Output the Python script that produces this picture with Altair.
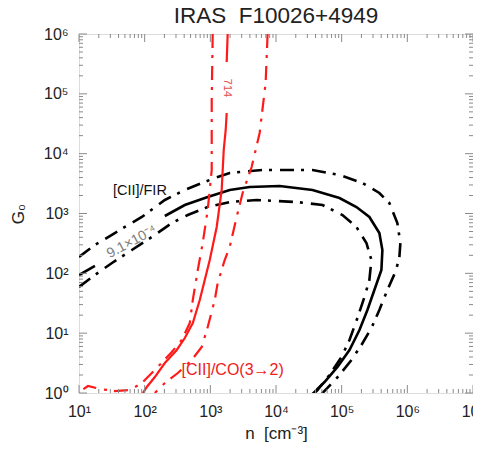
import altair as alt
import pandas as pd

W, H = 394, 359
FONT = "Liberation Sans"
AX = "#8a8a8a"
TXT = "#222222"
RED = "#ff1a1a"

# ---- data (log10 of n and of G0) ----
# [CII]/FIR = 9.1e-4 contour (solid), split by its label
fir_mid_a_logn = [1.00, 1.243]
fir_mid_a_logG = [1.972, 2.123]
fir_mid_b_logn = [2.307, 2.611, 2.960, 3.295, 3.599, 4.055, 4.556, 4.967, 5.225, 5.422,
                  5.574, 5.620, 5.605, 5.498, 5.392, 5.271, 5.119, 4.936, 4.739, 4.556]
fir_mid_b_logG = [2.958, 3.142, 3.276, 3.393, 3.443, 3.460, 3.393, 3.259, 3.109, 2.942,
                  2.674, 2.390, 2.056, 1.722, 1.387, 1.053, 0.719, 0.435, 0.184, -0.017]
# [CII]/FIR error contours (dash-dot)
fir_hi_logn = [1.00, 1.243, 1.699, 1.957, 2.307, 2.611, 2.869, 3.112, 3.295, 3.796, 4.556,
               4.967, 5.316, 5.574, 5.726, 5.848, 5.894, 5.878, 5.818, 5.696, 5.574, 5.453,
               5.301, 5.149, 4.967, 4.784, 4.693]
fir_hi_logG = [2.273, 2.474, 2.775, 2.942, 3.226, 3.393, 3.510, 3.610, 3.677, 3.727, 3.727,
               3.644, 3.510, 3.343, 3.176, 2.841, 2.507, 2.256, 2.022, 1.722, 1.387, 1.086,
               0.802, 0.552, 0.301, 0.084, -0.017]
fir_lo_logn = [1.00, 1.243, 1.502, 1.805, 2.109, 2.413, 2.657, 2.960, 3.295, 3.705, 4.313,
               4.708, 5.012, 5.225, 5.377, 5.453, 5.422, 5.347, 5.240, 5.119, 4.997, 4.815,
               4.632, 4.571]
fir_lo_logG = [1.772, 1.972, 2.173, 2.390, 2.607, 2.841, 2.975, 3.109, 3.192, 3.226, 3.192,
               3.142, 2.975, 2.775, 2.507, 2.223, 1.889, 1.605, 1.254, 0.886, 0.602, 0.301,
               0.050, -0.017]
# [CII]/CO(3-2) = 714 contour (solid), split by its label
co_mid_a_logn = [3.264, 3.249]
co_mid_a_logG = [6.00, 5.532]
co_mid_b_logn = [3.249, 3.234, 3.204, 3.173, 3.097, 2.991, 2.915, 2.839, 2.733, 2.611,
                 2.489, 2.307, 2.155, 2.033, 1.973]
co_mid_b_logG = [4.680, 4.396, 4.062, 3.393, 2.775, 2.223, 1.889, 1.554, 1.170, 0.919,
                 0.719, 0.501, 0.267, 0.100, 0.000]
# [CII]/CO(3-2) error contours (dash-dot)
co_lo_logn = [3.036, 3.021, 3.021, 2.960, 2.884, 2.809, 2.733, 2.687, 2.565, 2.413, 2.155,
              1.957, 1.775, 1.547, 1.319, 1.137, 1.00]
co_lo_logG = [6.00, 4.897, 3.727, 3.059, 2.507, 2.056, 1.554, 1.170, 0.886, 0.685, 0.384,
              0.167, 0.050, 0.033, 0.067, 0.117, 0.017]
co_hi_logn = [3.872, 3.842, 3.751, 3.629, 3.492, 3.401, 3.295, 3.219, 3.112, 3.067, 2.960,
              2.869, 2.717, 2.505, 2.307, 2.155]
co_hi_logG = [6.00, 5.181, 4.346, 3.777, 3.343, 2.942, 2.440, 2.223, 1.839, 1.554, 1.103,
              0.769, 0.552, 0.334, 0.167, 0.000]

# annotation labels
lab_fir_n, lab_fir_G = [84.5], [2380]
lab_val_n, lab_val_G = [63.8], [334]
lab_714_n, lab_714_G = [1775], [1.25e5]
lab_co_n, lab_co_G = [2188], [2.42]

# axis ticks
x_major = [1e1, 1e2, 1e3, 1e4, 1e5, 1e6, 1e7]
y_major = [1e0, 1e1, 1e2, 1e3, 1e4, 1e5, 1e6]
x_minor = [m * 10 ** k for k in range(1, 7) for m in range(2, 10)]
y_minor = [m * 10 ** k for k in range(0, 6) for m in range(2, 10)]


def curve(logn, logG, name):
    return pd.DataFrame({"n": [10 ** v for v in logn], "G": [10 ** v for v in logG],
                         "curve": name, "i": list(range(len(logn)))})


xs = alt.Scale(type="log", domain=[10, 1e7], nice=False)
ys = alt.Scale(type="log", domain=[1, 1e6], nice=False)

sup = "['⁰','¹','²','³','⁴','⁵','⁶','⁷'][round(log(datum.value)/LN10)]"
x_axis = alt.Axis(values=x_major, labelExpr="'10' + " + sup, ticks=False, tickSize=0,
                  domain=False, grid=False, labelFlush=False, labelOverlap=False,
                  labelFont=FONT, labelFontSize=16, labelColor=TXT, labelPadding=10,
                  title="n\u00a0 [cm⁻³]", titleFont=FONT, titleFontSize=17,
                  titleFontWeight="normal", titleColor=TXT, titlePadding=6)
y_axis = alt.Axis(values=y_major, labelExpr="'10' + " + sup, ticks=False, tickSize=0,
                  domain=False, grid=False, labelFlush=False, labelOverlap=False,
                  labelFont=FONT, labelFontSize=16, labelColor=TXT, labelPadding=11,
                  title="G₀", titleFont=FONT, titleFontSize=17,
                  titleFontWeight="normal", titleColor=TXT, titlePadding=16)


def X(field="n"):
    return alt.X(field + ":Q", scale=xs, axis=x_axis)


def Y(field="G"):
    return alt.Y(field + ":Q", scale=ys, axis=y_axis)


DD = [14, 7, 3, 8]

black_solid = alt.Chart(pd.concat([curve(fir_mid_a_logn, fir_mid_a_logG, "a"),
                                   curve(fir_mid_b_logn, fir_mid_b_logG, "b")])).mark_line(
    color="black", strokeWidth=2.6, clip=True).encode(
    x=X(), y=Y(), detail="curve:N", order="i:Q")

black_dd = alt.Chart(pd.concat([curve(fir_hi_logn, fir_hi_logG, "hi"),
                                curve(fir_lo_logn, fir_lo_logG, "lo")])).mark_line(
    color="black", strokeWidth=2.6, strokeDash=DD, clip=True).encode(
    x=X(), y=Y(), detail="curve:N", order="i:Q")

red_solid = alt.Chart(pd.concat([curve(co_mid_a_logn, co_mid_a_logG, "a"),
                                 curve(co_mid_b_logn, co_mid_b_logG, "b")])).mark_line(
    color=RED, strokeWidth=2.2, clip=True).encode(
    x=X(), y=Y(), detail="curve:N", order="i:Q")

red_dd = alt.Chart(pd.concat([curve(co_lo_logn, co_lo_logG, "lo"),
                              curve(co_hi_logn, co_hi_logG, "hi")])).mark_line(
    color=RED, strokeWidth=2.2, strokeDash=DD, clip=True).encode(
    x=X(), y=Y(), detail="curve:N", order="i:Q")


def label(text, n, G, color, size, angle=0):
    df = pd.DataFrame({"n": n, "G": G, "t": [text]})
    return alt.Chart(df).mark_text(color=color, font=FONT, fontSize=size, angle=angle,
                                   align="center", baseline="middle").encode(
        x=X(), y=Y(), text="t:N")


labels = [
    label("[CII]/FIR", lab_fir_n, lab_fir_G, "#111111", 14.5),
    label("9.1×10⁻⁴", lab_val_n, lab_val_G, "#808080", 14, 332),
    label("714", lab_714_n, lab_714_G, "#e05050", 11, 90),
    label("[CII]/CO(3→2)", lab_co_n, lab_co_G, "#ee2020", 16),
]


def xticks(vals, size):
    base = alt.Chart(pd.DataFrame({"v": vals})).mark_rule(color=AX, strokeWidth=1)
    return [base.encode(x=X("v"), y=alt.value(H), y2=alt.value(H - size)),
            base.encode(x=X("v"), y=alt.value(0), y2=alt.value(size))]


def yticks(vals, size):
    base = alt.Chart(pd.DataFrame({"v": vals})).mark_rule(color=AX, strokeWidth=1)
    return [base.encode(y=Y("v"), x=alt.value(0), x2=alt.value(size)),
            base.encode(y=Y("v"), x=alt.value(W), x2=alt.value(W - size))]


tick_layers = xticks(x_major, 8) + xticks(x_minor, 4) + yticks(y_major, 8) + yticks(y_minor, 4)

chart = alt.layer(black_solid, black_dd, red_solid, red_dd, *labels, *tick_layers).properties(
    width=W, height=H,
    title=alt.Title("IRAS\u00a0 F10026+4949", font=FONT, fontSize=22.5, fontWeight="normal",
                    color=TXT, anchor="middle", offset=-1),
    autosize=alt.AutoSizeParams(type="none"),
    padding={"left": 71, "top": 26, "right": 0, "bottom": 50},
).configure_view(stroke=AX, strokeWidth=1).configure(background="white")

chart.save("out.html", embed_options={"renderer": "svg", "actions": False})
